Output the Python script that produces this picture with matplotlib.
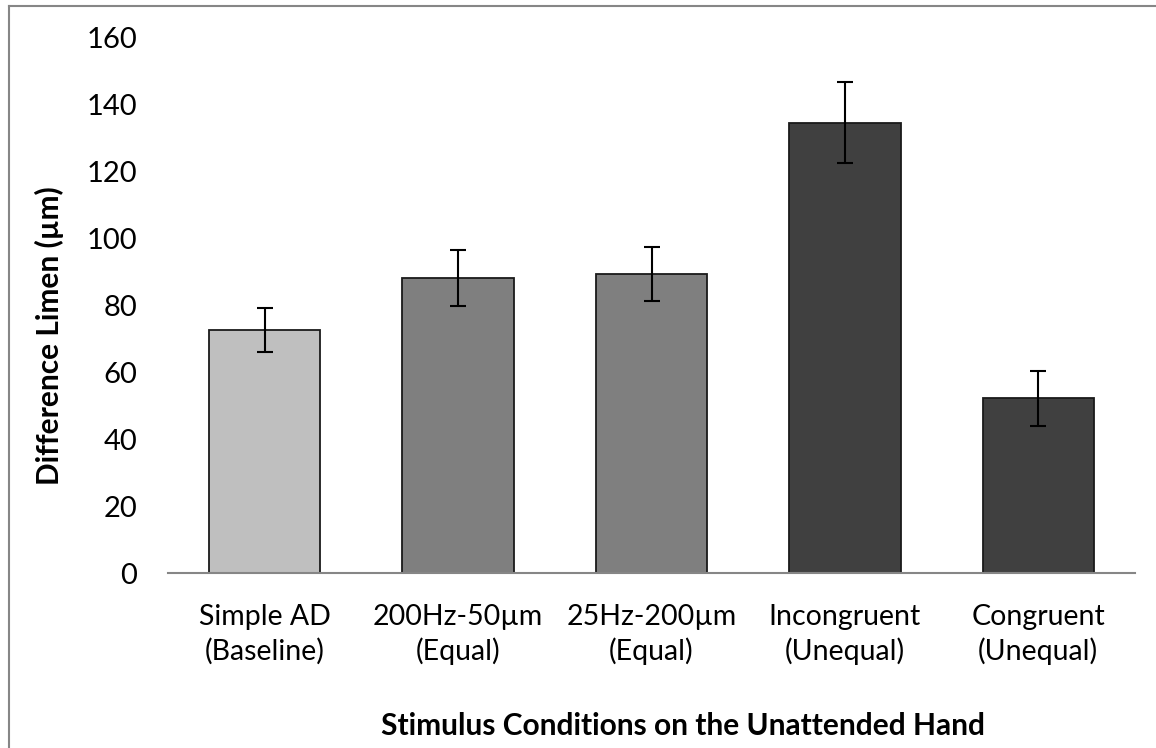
import numpy as np
import matplotlib.pyplot as plt
from matplotlib.lines import Line2D

conditions = ['Simple AD\n(Baseline)', '200Hz-50\u00b5m\n(Equal)', '25Hz-200\u00b5m\n(Equal)',
              'Incongruent\n(Unequal)', 'Congruent\n(Unequal)']
means = [72.7, 88.2, 89.4, 134.6, 52.3]
errors = [6.6, 8.3, 8.1, 12.1, 8.2]
colors = ['#bfbfbf', '#7f7f7f', '#7f7f7f', '#404040', '#404040']
yticks = [0, 20, 40, 60, 80, 100, 120, 140, 160]

plt.rcParams['font.family'] = ['Lato', 'DejaVu Sans']

W, H = 1156, 748
fig = plt.figure(figsize=(W / 100, H / 100), dpi=100)
ax = fig.add_axes([168 / W, 1 - 573 / H, (1135 - 168) / W, (573 - 38) / H])

x = np.arange(len(conditions))
ax.bar(x, means, width=0.575, color=colors, edgecolor='#1a1a1a', linewidth=1.3, zorder=2)
ax.errorbar(x, means, yerr=errors, fmt='none', ecolor='black', elinewidth=1.5,
            capsize=6, capthick=1.5, zorder=3)

ax.set_xlim(-0.5, len(conditions) - 0.5)
ax.set_ylim(0, 160)
ax.set_yticks(yticks)
ax.set_xticks(x)
ax.set_xticklabels(conditions, fontsize=20.5, linespacing=1.36)
ax.tick_params(axis='y', labelsize=21, length=0, pad=22)
ax.tick_params(axis='x', length=0, pad=22)

for s in ['top', 'right', 'left']:
    ax.spines[s].set_visible(False)
ax.spines['bottom'].set_color('#868686')
ax.spines['bottom'].set_linewidth(1.5)

ax.set_ylabel('Difference Limen (\u00b5m)', fontsize=21.5, fontweight='bold', labelpad=16, y=0.443)
fig.text(683 / W, 1 - 726 / H, 'Stimulus Conditions on the Unattended Hand',
         ha='center', va='center', fontsize=21.5, fontweight='bold')

# outer chart border (left and top visible)
fig.add_artist(Line2D([8.5 / W, 8.5 / W], [0, 1 - 5.5 / H], color='#868686', lw=1.5))
fig.add_artist(Line2D([8.5 / W, 1], [1 - 5.5 / H, 1 - 5.5 / H], color='#868686', lw=1.5))

fig.savefig('out.png', dpi=100)
